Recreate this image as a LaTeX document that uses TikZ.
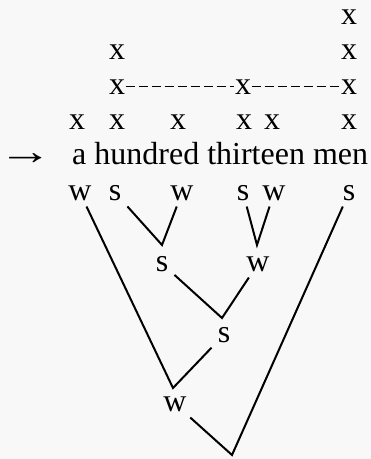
\documentclass[tikz,border=0pt]{standalone}
\usepackage{fontspec}
\setmainfont{Liberation Serif}
\definecolor{bgcol}{RGB}{248,248,248}
\begin{document}
\begin{tikzpicture}[x=1pt,y=-1pt,
  big/.style={font=\fontsize{32}{38}\selectfont},
  gx/.style={big,anchor=base,inner sep=0.5pt},
  lab/.style={big,anchor=base,inner sep=6pt},
  edge/.style={line width=2pt,line join=miter},
  dashline/.style={line width=1.5pt,dash pattern=on 9pt off 4pt}]
\fill[bgcol] (0,0) rectangle (371,459);
\useasboundingbox (0,0) rectangle (371,459);
% metrical grid
\node[gx] (r1f) at (349,24) {x};
\node[gx] (r2b) at (117,59) {x};
\node[gx] (r2f) at (349,59) {x};
\node[gx] (r3b) at (117,94) {x};
\node[gx] (r3d) at (243,94) {x};
\node[gx] (r3f) at (349,94) {x};
\node[gx] (r4a) at (77,129) {x};
\node[gx] (r4b) at (117,129) {x};
\node[gx] (r4c) at (178,129) {x};
\node[gx] (r4d) at (244,129) {x};
\node[gx] (r4e) at (272,129) {x};
\node[gx] (r4f) at (349,129) {x};
\draw[dashline] (r3b.east) -- (r3d.west);
\draw[dashline] (r3d.east) -- (r3f.west);
% sentence
\node[big,anchor=base,inner sep=0pt] (arr) at (26,164) {\scalebox{1.7}[1.2]{→}};
\node[big,anchor=base west,inner sep=0pt] (sent) at (72,164) {a hundred thirteen men};
% tree labels
\node[lab] (l1) at (80,200) {w};
\node[lab] (l2) at (115,200) {s};
\node[lab] (l3) at (182,200) {w};
\node[lab] (l4) at (243,200) {s};
\node[lab] (l5) at (274,200) {w};
\node[lab] (l6) at (349,200) {s};
\node[lab] (n1) at (162,271) {s};
\node[lab] (n2) at (258,271) {w};
\node[lab] (n3) at (224,342) {s};
\node[lab] (n4) at (175,411) {w};
\coordinate (v1) at (162,245);
\coordinate (v2) at (257,245);
\coordinate (v3) at (222,318);
\coordinate (v4) at (173,388);
\coordinate (v5) at (232,455);
\draw[edge] (l2) -- (v1) -- (l3);
\draw[edge] (l4) -- (v2) -- (l5);
\draw[edge] (n1) -- (v3) -- (n2);
\draw[edge] (l1) -- (v4) -- (n3);
\draw[edge] (n4) -- (v5) -- (l6);
\end{tikzpicture}
\end{document}
